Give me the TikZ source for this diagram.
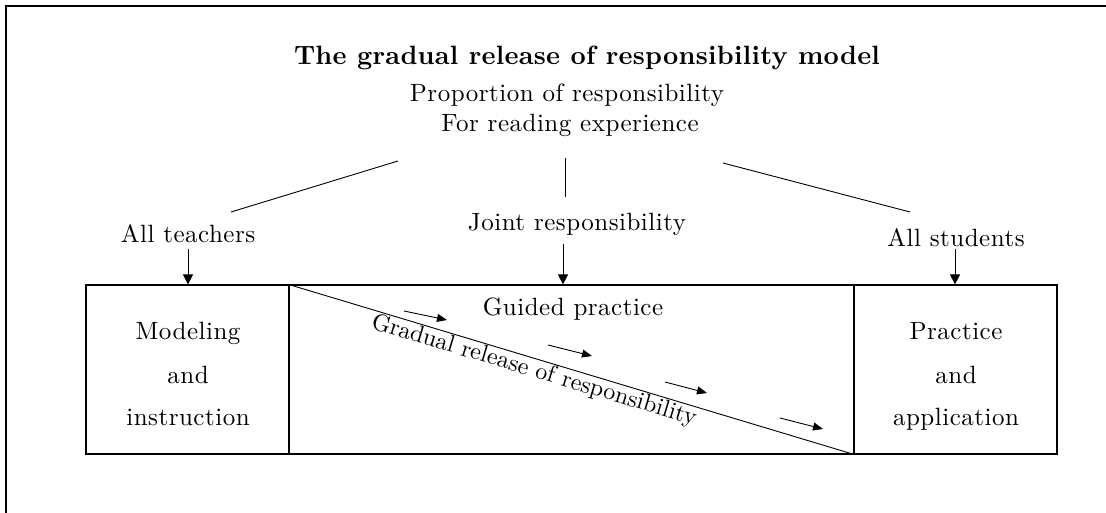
\documentclass[tikz,border=0pt]{standalone}
\usepackage{fontspec}
\setmainfont{lmroman10-regular.otf}[BoldFont=lmroman10-bold.otf]
\usetikzlibrary{arrows.meta}
\begin{document}
\begin{tikzpicture}[x=1pt,y=-1pt,
  lbl/.style={font=\fontsize{25}{28}\selectfont\addfontfeatures{LetterSpace=2}, inner sep=0pt, anchor=base},
  ttl/.style={font=\fontsize{26.5}{30}\selectfont\bfseries\addfontfeatures{LetterSpace=1}, inner sep=0pt, anchor=base},
  conn/.style={line width=0.9pt},
  arr/.style={line width=1pt,-{Triangle[length=10pt,width=10pt]}},
  sarr/.style={line width=0.9pt,-{Triangle[length=10pt,width=8pt]}},
  box/.style={draw, line width=1.2pt, minimum height=169pt, inner sep=0pt}]
\useasboundingbox (0,0) rectangle (1106,513);
\draw[line width=1.5pt] (6,513) -- (6,6) -- (1106,6);

\node[ttl] (title) at (587,65) {The gradual release of responsibility model};
\node[lbl] (prop) at (567,102) {Proportion of responsibility};
\node[lbl] (read) at (570,132) {For reading experience};

\node[lbl] (teach) at (188,243) {All teachers};
\node[lbl] (joint) at (577,231) {Joint responsibility};
\node[lbl] (stud) at (956,247) {All students};

\coordinate (l1a) at (398,161);
\coordinate (l1b) at (231,212);
\coordinate (l2a) at (565,158);
\coordinate (l2b) at (565,197);
\coordinate (l3a) at (723,163);
\coordinate (l3b) at (910,212);
\draw[conn] (l1a) -- (l1b);
\draw[conn] (l2a) -- (l2b);
\draw[conn] (l3a) -- (l3b);

\node[box, minimum width=203pt] (left) at (187.5,369.5) {};
\node[box, minimum width=565pt] (mid) at (571.5,369.5) {};
\node[box, minimum width=203pt] (right) at (955.5,369.5) {};

\coordinate (t1) at (188,249);
\coordinate (t2) at (563,244);
\coordinate (t3) at (955,249);
\draw[arr] (t1) -- (left.north -| t1);
\draw[arr] (t2) -- (mid.north -| t2);
\draw[arr] (t3) -- (right.north -| t3);

\node[lbl] (m1) at (188,339) {Modeling};
\node[lbl] (m2) at (188,383) {and};
\node[lbl] (m3) at (188,425) {instruction};
\node[lbl] (p1) at (956,339) {Practice};
\node[lbl] (p2) at (956,383) {and};
\node[lbl] (p3) at (956,425) {application};

\node[lbl] (guided) at (573,315) {Guided practice};

\draw[conn] (mid.north west) -- (mid.south east)
  node[pos=0.44, sloped, below=1pt, font=\fontsize{24}{28}\selectfont, inner sep=0pt] (grad) {Gradual release of responsibility};

\coordinate (s1a) at (404,311); \coordinate (s1b) at (447,320);
\coordinate (s2a) at (548,345); \coordinate (s2b) at (592,356);
\coordinate (s3a) at (665,382); \coordinate (s3b) at (707,393);
\coordinate (s4a) at (780,418); \coordinate (s4b) at (823,429);
\draw[sarr] (s1a) -- (s1b);
\draw[sarr] (s2a) -- (s2b);
\draw[sarr] (s3a) -- (s3b);
\draw[sarr] (s4a) -- (s4b);
\end{tikzpicture}
\end{document}
